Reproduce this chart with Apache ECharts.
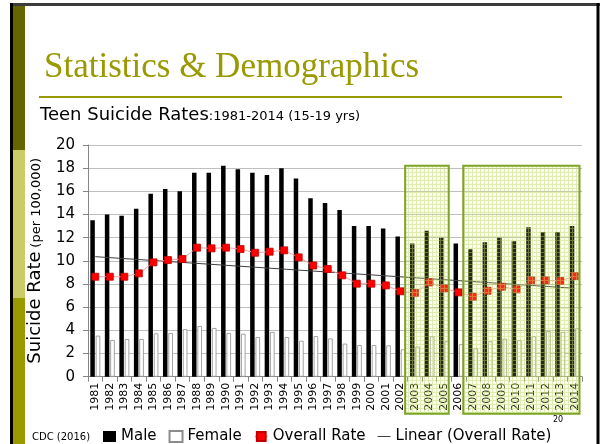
<!DOCTYPE html>
<html>
<head>
<meta charset="utf-8">
<script src="https://cdn.jsdelivr.net/npm/echarts@6/dist/echarts.min.js"></script>
<style>
  html, body { margin: 0; padding: 0; background: #ffffff; }
  #chart { width: 600px; height: 444px; }
</style>
</head>
<body>
<div id="chart"></div>
<script>
// Teen suicide rates, ages 15-19, per 100,000 (CDC 2016)
const years = ['1981','1982','1983','1984','1985','1986','1987','1988','1989','1990',
  '1991','1992','1993','1994','1995','1996','1997','1998','1999','2000',
  '2001','2002','2003','2004','2005','2006','2007','2008','2009','2010',
  '2011','2012','2013','2014'];

const maleRates = [13.5, 14.0, 13.9, 14.5, 15.8, 16.2, 16.0, 17.6, 17.6, 18.2,
  17.9, 17.6, 17.4, 18.0, 17.1, 15.4, 15.0, 14.4, 13.0, 13.0,
  12.8, 12.1, 11.5, 12.6, 12.0, 11.5, 11.0, 11.6, 12.0, 11.7,
  12.9, 12.5, 12.5, 13.0];

const femaleRates = [3.54, 3.17, 3.25, 3.25, 3.74, 3.77, 4.1, 4.37, 4.2, 3.77,
  3.7, 3.42, 3.86, 3.42, 3.1, 3.5, 3.3, 2.85, 2.73, 2.73,
  2.7, 2.36, 2.6, 3.48, 3.05, 2.8, 2.45, 3.05, 3.28, 3.14,
  3.48, 3.94, 3.86, 4.17];

const overallRates = [8.63, 8.63, 8.63, 8.92, 9.87, 10.07, 10.16, 11.14, 11.08, 11.14,
  11.02, 10.7, 10.79, 10.91, 10.3, 9.6, 9.3, 8.75, 8.03, 8.03,
  7.88, 7.37, 7.22, 8.14, 7.63, 7.28, 6.9, 7.42, 7.77, 7.54,
  8.32, 8.32, 8.26, 8.69];

// Linear trend of the overall rate: value at first and last year
const trendYears = ['1981', '2014'];
const trendValues = [10.36, 7.63];

// Highlighted year spans and the rate at the top of each box
const highlightFrom = ['2003', '2007'];
const highlightTo = ['2005', '2014'];
const highlightTop = [18.2, 18.2];

const yTicks = { min: 0, max: 20, step: 2 };

// Fine green grid texture for the highlight boxes
function makeGridPattern() {
  const c = document.createElement('canvas');
  c.width = 4; c.height = 4;
  const g = c.getContext('2d');
  g.fillStyle = 'rgba(230,242,170,0.16)';
  g.fillRect(0, 0, 4, 4);
  g.fillStyle = 'rgba(186,216,96,0.45)';
  g.fillRect(0, 0, 4, 1);
  g.fillRect(0, 1, 1, 3);
  return c;
}

const chart = echarts.init(document.getElementById('chart'), null, { renderer: 'canvas' });

const highlightData = highlightFrom.map((y, i) => [years.indexOf(y), years.indexOf(highlightTo[i]), highlightTop[i]]);
const gridPattern = makeGridPattern();

const sans = 'DejaVu Sans';
const thinLine = 'path://M0,0 L13,0 L13,1 L0,1 Z';

const option = {
  backgroundColor: '#ffffff',
  animation: false,
  textStyle: { fontFamily: sans },
  title: [
    {
      text: 'Statistics & Demographics',
      left: 44, top: 50,
      padding: 0,
      textStyle: { fontFamily: 'Liberation Serif', fontSize: 35, fontWeight: 'normal', color: '#999900' }
    },
    {
      text: '{a|Teen Suicide Rates}{b|:1981-2014 (15-19 yrs)}',
      left: 40, top: 106,
      padding: 0,
      textStyle: {
        fontWeight: 'normal',
        rich: {
          a: { fontFamily: sans, fontSize: 18, fontWeight: 'normal', color: '#000000' },
          b: { fontFamily: sans, fontSize: 13, fontWeight: 'normal', color: '#000000', padding: [3, 0, 0, 0] }
        }
      }
    },
    {
      text: 'CDC (2016)',
      left: 32, top: 432, padding: 0,
      textStyle: { fontFamily: sans, fontSize: 10, fontWeight: 'normal', color: '#000000' }
    },
    {
      text: '20',
      left: 553, top: 416, padding: 0,
      textStyle: { fontFamily: sans, fontSize: 8, fontWeight: 'normal', color: '#000000' }
    }
  ],
  graphic: [
    // slide frame
    { type: 'rect', shape: { x: 10, y: 3, width: 590, height: 3 }, style: { fill: '#3c3c3c' }, silent: true },
    { type: 'rect', shape: { x: 10, y: 3, width: 3, height: 441 }, style: { fill: '#000000' }, silent: true },
    { type: 'rect', shape: { x: 596.5, y: 3, width: 3, height: 441 }, style: { fill: '#000000' }, silent: true },
    { type: 'rect', shape: { x: 13, y: 6, width: 12, height: 144 }, style: { fill: '#666600' }, silent: true },
    { type: 'rect', shape: { x: 13, y: 150, width: 12, height: 148 }, style: { fill: '#cccc66' }, silent: true },
    { type: 'rect', shape: { x: 13, y: 298, width: 12, height: 146 }, style: { fill: '#999900' }, silent: true },
    // rule under the heading
    { type: 'rect', shape: { x: 39, y: 96, width: 523, height: 2 }, style: { fill: '#999900' }, silent: true }
  ],
  legend: {
    left: 98, top: 424,
    itemWidth: 13, itemHeight: 11, itemGap: 12,
    textStyle: { fontFamily: sans, fontSize: 15, color: '#000000' },
    data: [
      { name: 'Male', icon: 'rect' },
      { name: 'Female', icon: 'rect' },
      { name: 'Overall Rate' },
      { name: 'Linear (Overall Rate)', icon: thinLine, itemStyle: { color: '#3f3f3f' } }
    ]
  },
  grid: { left: 88, right: 18, top: 145, bottom: 67.3, containLabel: false },
  xAxis: {
    type: 'category',
    data: years,
    boundaryGap: true,
    axisLine: { lineStyle: { color: '#868686', width: 1 } },
    axisTick: { show: true, length: 5, lineStyle: { color: '#868686' } },
    axisLabel: { rotate: 90, interval: 0, fontSize: 11, color: '#000000', fontFamily: sans, margin: 6 },
    splitLine: { show: false }
  },
  yAxis: {
    type: 'value',
    min: yTicks.min, max: yTicks.max, interval: yTicks.step,
    name: '{a|Suicide Rate} {b|(per 100,000)}',
    nameLocation: 'middle',
    nameRotate: 90,
    nameGap: 44,
    nameTextStyle: {
      rich: {
        a: { fontFamily: sans, fontSize: 18, color: '#000000' },
        b: { fontFamily: sans, fontSize: 13, color: '#000000', padding: [3, 0, 0, 0] }
      }
    },
    axisLine: { show: true, lineStyle: { color: '#868686' } },
    axisTick: { show: true, length: 5, lineStyle: { color: '#868686' } },
    axisLabel: { fontSize: 15, color: '#000000', fontFamily: sans, margin: 13 },
    splitLine: { lineStyle: { color: '#bfbfbf', width: 1 } }
  },
  series: [
    {
      name: 'Male', type: 'bar', data: maleRates,
      barWidth: 4.5, barGap: '20%',
      itemStyle: { color: '#000000' },
      z: 2
    },
    {
      name: 'Female', type: 'bar', data: femaleRates,
      barWidth: 4.5,
      itemStyle: { color: '#ffffff', borderColor: '#8c8c8c', borderWidth: 0.8 },
      z: 2
    },
    {
      name: 'Linear (Overall Rate)', type: 'line',
      data: trendYears.map((y, i) => [y, trendValues[i]]),
      symbol: 'none',
      lineStyle: { color: '#3f3f3f', width: 1 },
      itemStyle: { color: '#3f3f3f' },
      z: 3
    },
    {
      name: 'Overall Rate', type: 'line', data: overallRates,
      symbol: 'rect', symbolSize: 7,
      lineStyle: { color: '#f3a3a3', width: 1 },
      itemStyle: { color: '#ff0000', borderColor: '#c00000', borderWidth: 0.8 },
      z: 4
    },
    {
      name: 'highlight', type: 'custom',
      data: highlightData,
      encode: { x: [0, 1], y: 2 },
      clip: false,
      silent: true,
      z: 6,
      renderItem: function (params, api) {
        const half = api.size([1, 0])[0] / 2;
        const top = api.coord([api.value(0), api.value(2)]);
        const bottom = api.coord([api.value(1), 0]);
        const x0 = top[0] - half - 2.5;
        const x1 = Math.min(bottom[0] + half - 2.5, params.coordSys.x + params.coordSys.width - 1);
        const y0 = top[1];
        const y1 = bottom[1] + 37;
        return {
          type: 'rect',
          shape: { x: x0, y: y0, width: x1 - x0, height: y1 - y0 },
          style: { fill: { image: gridPattern, repeat: 'repeat' }, stroke: '#7ea427', lineWidth: 2 }
        };
      }
    }
  ]
};

chart.setOption(option);
</script>
</body>
</html>
